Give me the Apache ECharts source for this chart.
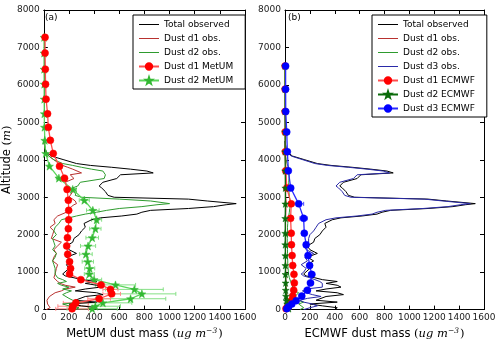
<!DOCTYPE html>
<html>
<head>
<meta charset="utf-8">
<script src="https://cdn.jsdelivr.net/npm/echarts@6/dist/echarts.min.js"></script>
<style>
html, body { margin: 0; padding: 0; background: #fff; }
#chart { width: 500px; height: 345px; }
</style>
</head>
<body>
<div id="chart"></div>
<script>
// observation profiles (altitude in m, dust mass in ug m-3)
var obsAlt = [0,50,100,150,200,250,300,350,400,450,500,550,600,650,700,750,800,850,900,950,1000,
    1100,1200,1300,1400,1500,1600,1700,1800,1900,2000,2100,2200,2300,2400,
    2450,2500,2550,2600,2650,2700,2750,2800,2830,2900,2950,3000,3050,
    3150,3250,3300,3400,3500,3550,3600,3650,3700,3750,3800,3850,3900,
    4000,4100,4200,4300,4400,4500];
var totalObs = [400,420,300,200,420,250,240,330,470,420,250,330,450,420,330,420,300,240,170,150,160,
    200,180,230,180,260,200,180,230,240,280,300,330,320,380,
    450,620,740,780,850,1150,1350,1450,1530,1300,1150,560,510,
    490,460,440,470,580,590,610,870,820,690,540,370,260,
    160,60,20,10,5,0];
var metD1Obs = [20,50,60,30,20,25,40,45,60,90,140,170,250,170,130,110,100,80,70,90,85,
    100,110,70,80,100,80,110,140,60,70,80,50,90,80,
    90,110,120,180,190,200,220,240,260,250,230,200,210,
    230,190,180,170,240,230,210,300,290,230,190,150,120,
    80,40,20,10,5,0];
var metD2Obs = [250,280,200,150,300,230,200,200,150,180,220,150,200,140,110,180,150,110,100,90,95,
    90,80,70,90,100,70,90,80,70,100,80,90,120,140,
    200,260,330,420,500,600,780,900,1000,850,600,300,250,
    260,230,270,290,480,470,490,500,470,380,300,230,150,
    80,40,20,10,5,0];
var ecD1Obs = [50,45,40,30,25,20,20,18,15,15,12,12,10,10,10,10,8,8,8,7,6,
    6,6,5,5,5,5,5,5,5,5,5,5,5,5,
    5,6,6,7,7,8,9,10,10,9,8,6,6,
    6,6,6,6,7,7,7,8,8,7,6,5,4,
    3,2,1,0,0,0];
var ecD2Obs = [120,150,140,110,150,100,90,80,70,110,80,60,70,60,50,45,40,35,30,28,25,
    25,22,22,20,20,20,20,18,18,20,20,20,22,25,
    28,30,32,35,36,38,40,42,45,42,40,35,33,
    32,30,30,30,32,33,34,38,36,32,28,22,15,
    10,5,2,1,0,0];
var ecD3Obs = [150,200,260,220,150,120,180,290,220,170,140,170,300,300,300,280,240,200,150,130,150,
    170,130,180,160,230,170,150,190,190,200,230,250,270,330,
    410,580,700,740,810,1110,1310,1410,1490,1270,1120,530,480,
    460,430,410,440,550,560,580,840,790,660,510,340,240,
    145,50,15,8,4,0];

// MetUM model levels
var metumAlt = [20,90,180,290,420,540,660,800,950,1100,1280,1480,1700,1920,2160,2400,2650,2920,3210,3510,3830,4170,4520,4870,5230,5620,6020,6420,6850,7270];
var metumD1 = [225,232,255,440,540,530,455,295,205,213,205,190,182,188,195,198,198,195,185,165,125,75,52,36,30,18,14,12,10,10];
var metumD2 = [385,410,470,690,780,720,570,400,362,365,350,335,352,385,410,420,390,322,230,120,45,15,8,5,4,3,3,2,2,2];
var metumD1Err = [130,120,100,90,70,60,30,20,10,10,10,10,10,10,10,10,10,10,10,10,5,0,0,0,0,0,0,0,0,0];
var metumD2Err = [200,200,230,280,270,230,160,60,40,40,45,50,60,50,45,40,50,40,30,20,10,0,0,0,0,0,0,0,0,0];

// ECMWF model levels
var ecmwfAlt = [26,79,150,238,361,519,713,941,1179,1443,1733,2040,2437,2824,3247,3705,4215,4743,5289,5887,6503];
var ecD1 = [8,20,35,50,62,70,75,72,62,57,52,50,45,50,15,6,3,2,1,1,1];
var ecD2 = [30,25,18,12,8,6,5,4,3,3,2,2,2,3,3,2,1,1,0,0,0];
var ecD3 = [14,28,55,90,135,180,205,215,198,185,170,155,150,110,46,27,19,14,6,5,5];
var ecD1Err = [3,5,8,10,10,10,10,10,8,8,8,8,8,12,5,2,0,0,0,0,0];
var ecD2Err = [5,5,4,3,2,2,1,1,1,1,0,0,0,0,0,0,0,0,0,0,0];
var ecD3Err = [5,8,12,15,20,25,25,25,20,20,20,20,30,40,20,10,5,3,2,1,1];

var leftNames = ['Total observed', 'Dust d1 obs.', 'Dust d2 obs.', 'Dust d1 MetUM', 'Dust d2 MetUM'];
var rightNames = ['Total observed', 'Dust d1 obs.', 'Dust d2 obs.', 'Dust d3 obs.', 'Dust d1 ECMWF', 'Dust d2 ECMWF', 'Dust d3 ECMWF'];
var obsNames = ['Total observed', 'Dust d1 obs.', 'Dust d2 obs.', 'Dust d3 obs.'];

var FONT = 'DejaVu Sans';
var STAR = 'path://M0,-10L2.35,-3.24L9.51,-3.09L3.8,1.24L5.88,8.09L0,4L-5.88,8.09L-3.8,1.24L-9.51,-3.09L-2.35,-3.24Z';
// plain line for legend entries without markers (corner specks fix the bounding box)
var LINE_ICON = 'path://M0,0h0.05v0.05h-0.05zM0,3.4h20v1.2h-20zM0,7.95h0.05v0.05h-0.05z';

function pairs(vals, alts, errs) {
    return vals.map(function (v, i) {
        return errs ? [v, alts[i], errs[i]] : [v, alts[i]];
    });
}

function obsLine(name, vals, color, ax) {
    return {
        name: name, type: 'line', xAxisIndex: ax, yAxisIndex: ax,
        data: pairs(vals, obsAlt), symbol: 'none', silent: true,
        lineStyle: {color: color, width: 1}, itemStyle: {color: color}
    };
}

function modelLine(name, vals, alts, color, lineColor, symbol, size, ax, z) {
    return {
        name: name, type: 'line', xAxisIndex: ax, yAxisIndex: ax, z: z,
        data: pairs(vals, alts), symbol: symbol, symbolSize: size, showSymbol: true,
        lineStyle: {color: lineColor, width: 1.3},
        itemStyle: {color: color, borderColor: color, borderWidth: 0.5}
    };
}

function errBars(vals, alts, errs, color, ax, z) {
    return {
        type: 'custom', xAxisIndex: ax, yAxisIndex: ax, z: z, silent: true,
        data: pairs(vals, alts, errs),
        encode: {x: 0, y: 1},
        renderItem: function (params, api) {
            var v = api.value(0), a = api.value(1), e = api.value(2);
            if (!e) return null;
            var p1 = api.coord([v - e, a]), p2 = api.coord([v + e, a]);
            var st = {stroke: color, lineWidth: 1};
            return {
                type: 'group',
                children: [
                    {type: 'line', shape: {x1: p1[0], y1: p1[1], x2: p2[0], y2: p2[1]}, style: st},
                    {type: 'line', shape: {x1: p1[0], y1: p1[1] - 2, x2: p1[0], y2: p1[1] + 2}, style: st},
                    {type: 'line', shape: {x1: p2[0], y1: p2[1] - 2, x2: p2[0], y2: p2[1] + 2}, style: st}
                ]
            };
        }
    };
}

var nameRich = {
    t: {fontFamily: FONT, fontSize: 11.5, color: '#000'},
    p: {fontFamily: 'DejaVu Serif', fontSize: 11.5, color: '#000'},
    m: {fontFamily: 'DejaVu Serif', fontStyle: 'italic', fontSize: 11.5, color: '#000'},
    s: {fontFamily: 'DejaVu Serif', fontStyle: 'italic', fontSize: 7.5, color: '#000', verticalAlign: 'top', padding: [0, 1, 5, 0]}
};

function plain(v) { return String(v); }

function xAxes(grid, title) {
    var base = {
        type: 'value', gridIndex: grid, min: 0, max: 1600, interval: 200,
        axisLine: {show: true, onZero: false, lineStyle: {color: '#000', width: 1}},
        axisTick: {show: true, inside: true, length: 4, lineStyle: {color: '#000'}},
        splitLine: {show: false}
    };
    return [
        Object.assign({}, base, {
            position: 'bottom',
            axisLabel: {fontFamily: FONT, fontSize: 9, color: '#222', margin: 4, formatter: plain},
            name: '{t|' + title + ' }{p|(}{m|ug m}{s|−3}{p|)}',
            nameLocation: 'middle', nameGap: 14,
            nameTextStyle: {rich: nameRich}
        }),
        Object.assign({}, base, {position: 'top', axisLabel: {show: false}})
    ];
}

function yAxes(grid, withName) {
    var base = {
        type: 'value', gridIndex: grid, min: 0, max: 8000, interval: 1000,
        axisLine: {show: true, onZero: false, lineStyle: {color: '#000', width: 1}},
        axisTick: {show: true, inside: true, length: 4, lineStyle: {color: '#000'}},
        splitLine: {show: false}
    };
    var left = Object.assign({}, base, {
        position: 'left',
        axisLabel: {fontFamily: FONT, fontSize: 9, color: '#222', margin: 4, formatter: plain}
    });
    if (withName) {
        left.name = '{t|Altitude }{p|(}{m|m}{p|)}';
        left.nameLocation = 'middle';
        left.nameGap = 26;
        left.nameTextStyle = {rich: nameRich};
    }
    return [left, Object.assign({}, base, {position: 'right', axisLabel: {show: false}})];
}

function legendFor(names, left) {
    return {
        data: names.map(function (n) {
            return obsNames.indexOf(n) >= 0 ? {name: n, icon: LINE_ICON} : {name: n};
        }),
        orient: 'vertical', left: left, top: 15,
        selectedMode: false, backgroundColor: '#fff',
        borderColor: '#000', borderWidth: 1, borderRadius: 0,
        padding: [4, 12, 3, 5], itemGap: 3, itemWidth: 20, itemHeight: 8, itemTextGap: 8,
        textStyle: {fontFamily: FONT, fontSize: 9, color: '#000', lineHeight: 11}
    };
}

var chart = echarts.init(document.getElementById('chart'), null, {renderer: 'canvas'});

chart.setOption({
    animation: false,
    backgroundColor: '#fff',
    grid: [
        {left: 42, top: 10, width: 203, height: 303},
        {left: 285, top: 10, width: 199, height: 303}
    ],
    xAxis: xAxes(0, 'MetUM dust mass').concat(xAxes(1, 'ECMWF dust mass')),
    yAxis: yAxes(0, true).concat(yAxes(1, false)),
    title: [
        {text: '(a)', left: 45, top: 13, padding: 0, z: 10, textStyle: {fontFamily: FONT, fontSize: 9, fontWeight: 'normal', color: '#000'}},
        {text: '(b)', left: 288, top: 13, padding: 0, z: 10, textStyle: {fontFamily: FONT, fontSize: 9, fontWeight: 'normal', color: '#000'}}
    ],
    legend: [legendFor(leftNames, 133), legendFor(rightNames, 372)],
    series: [
        // panel (a)
        obsLine('Total observed', totalObs, '#000', 0),
        obsLine('Dust d1 obs.', metD1Obs, '#b8312f', 0),
        obsLine('Dust d2 obs.', metD2Obs, '#2e9b2e', 0),
        errBars(metumD2, metumAlt, metumD2Err, '#86e086', 0, 3),
        errBars(metumD1, metumAlt, metumD1Err, '#ff8a8a', 0, 3),
        modelLine('Dust d2 MetUM', metumD2, metumAlt, '#33b833', '#5cd65c', STAR, 8, 0, 4),
        modelLine('Dust d1 MetUM', metumD1, metumAlt, '#ff0000', '#ff4d4d', 'circle', 7, 0, 5),
        // panel (b)
        obsLine('Total observed', totalObs, '#000', 2),
        obsLine('Dust d1 obs.', ecD1Obs, '#b8312f', 2),
        obsLine('Dust d2 obs.', ecD2Obs, '#2e9b2e', 2),
        obsLine('Dust d3 obs.', ecD3Obs, '#2a2aa8', 2),
        errBars(ecD1, ecmwfAlt, ecD1Err, '#ff6666', 2, 3),
        errBars(ecD2, ecmwfAlt, ecD2Err, '#2e7d2e', 2, 3),
        errBars(ecD3, ecmwfAlt, ecD3Err, '#4d4dff', 2, 3),
        modelLine('Dust d1 ECMWF', ecD1, ecmwfAlt, '#ff0000', '#ff4d4d', 'circle', 7, 2, 4),
        modelLine('Dust d2 ECMWF', ecD2, ecmwfAlt, '#0b6b0b', '#0b6b0b', STAR, 7, 2, 4),
        modelLine('Dust d3 ECMWF', ecD3, ecmwfAlt, '#0000ff', '#2a2aff', 'circle', 7, 2, 5)
    ]
});
</script>
</body>
</html>
